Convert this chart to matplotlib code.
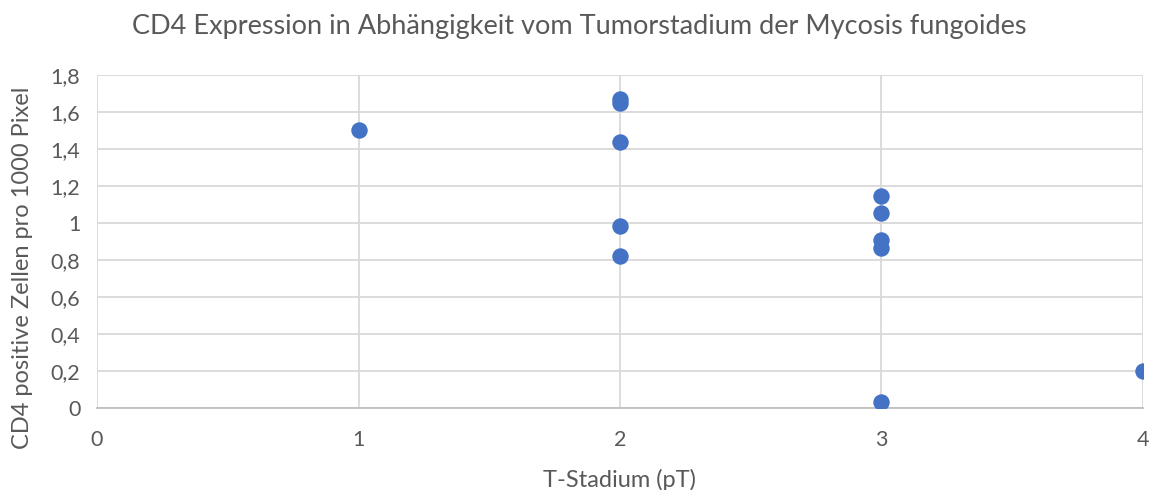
import matplotlib
matplotlib.use("Agg")
import matplotlib.pyplot as plt
from matplotlib.ticker import FuncFormatter, MultipleLocator

# T-stage of each sample and the CD4 cell density measured for it
stage = [1, 2, 2, 2, 2, 2, 3, 3, 3, 3, 3, 4]
cd4_density = [1.50, 1.67, 1.65, 1.44, 0.985, 0.822, 1.143, 1.055, 0.905, 0.862, 0.032, 0.20]

title = "CD4 Expression in Abhängigkeit vom Tumorstadium der Mycosis fungoides"
xlabel = "T-Stadium (pT)"
ylabel = "CD4 positive Zellen pro 1000 Pixel"

plt.rcParams["font.family"] = ["Lato", "DejaVu Sans"]
text_color = "#595959"
grid_color = "#d9d9d9"

fig = plt.figure(figsize=(11.58, 4.90), dpi=100)
ax = fig.add_axes([0.0838, 0.168, 0.9032, 0.679])

ax.scatter(stage, cd4_density, s=140, color="#4472C4", zorder=3, linewidths=0)

ax.set_xlim(0, 4)
ax.set_ylim(0, 1.8)
ax.xaxis.set_major_locator(MultipleLocator(1))
ax.yaxis.set_major_locator(MultipleLocator(0.2))

def comma_fmt(v, pos):
    s = f"{v:.1f}".rstrip("0").rstrip(".")
    return s.replace(".", ",")

ax.yaxis.set_major_formatter(FuncFormatter(comma_fmt))
ax.xaxis.set_major_formatter(FuncFormatter(comma_fmt))

ax.grid(True, color=grid_color, linewidth=1.3, zorder=0)
for side in ("top", "right", "left"):
    ax.spines[side].set_visible(False)
ax.spines["bottom"].set_color("#bfbfbf")
ax.spines["bottom"].set_linewidth(1.3)
ax.tick_params(length=0, labelsize=15.5, colors=text_color)
ax.tick_params(axis="x", pad=16)
ax.tick_params(axis="y", pad=12)
ax.set_axisbelow(True)

ax.set_xlabel(xlabel, fontsize=17, color=text_color, labelpad=14)
ax.set_ylabel(ylabel, fontsize=17, color=text_color, labelpad=10)
ax.yaxis.set_label_coords(-0.061, 0.42)
fig.text(0.5, 0.945, title, ha="center", va="center", fontsize=19.5, color=text_color)

fig.savefig("out.png", dpi=100)
